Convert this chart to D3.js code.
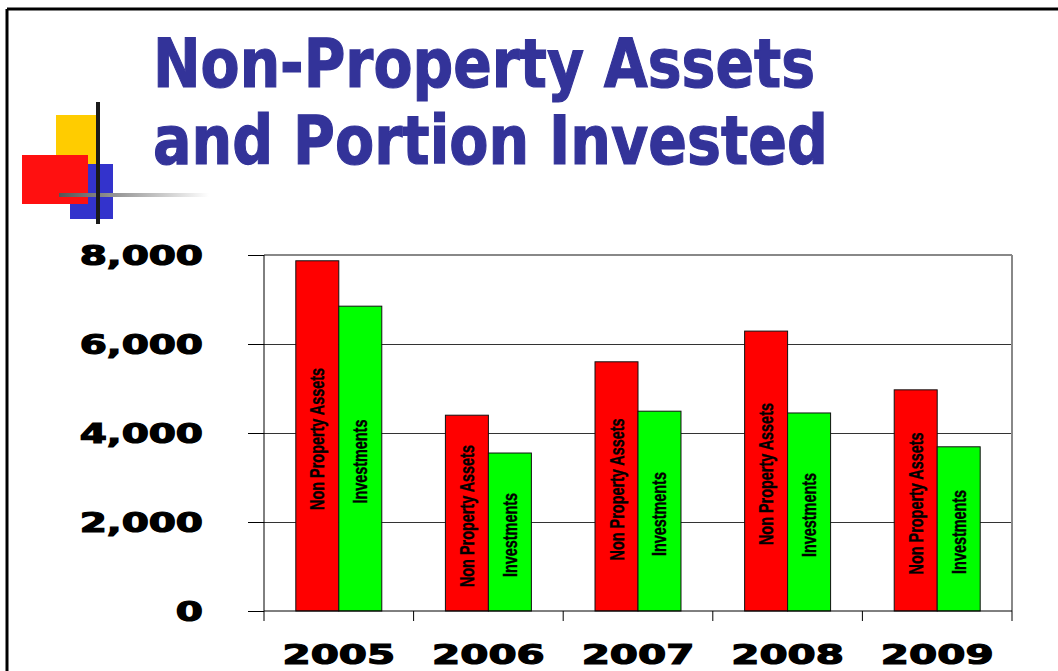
<!DOCTYPE html>
<html>
<head>
<meta charset="utf-8">
<script src="https://cdn.jsdelivr.net/npm/d3@7"></script>
<style>
  body { margin: 0; background: #fff; }
  svg { display: block; }
</style>
</head>
<body>
<script>
// data
let years = ["2005", "2006", "2007", "2008", "2009"];
let nonPropertyAssets = [7870, 4400, 5600, 6290, 4970];
let investments = [6850, 3550, 4490, 4450, 3690];
let seriesNames = ["Non Property Assets", "Investments"];
let seriesColors = ["#ff0000", "#00ff00"];
let yTicks = [0, 2000, 4000, 6000, 8000];
let titleLines = ["Non-Property Assets", "and Portion Invested"];

let width = 1058, height = 671;
let svg = d3.select("body").append("svg")
    .attr("width", width)
    .attr("height", height);

// slide frame
svg.append("line").attr("x1", 7).attr("y1", 9).attr("x2", width).attr("y2", 9)
    .attr("stroke", "#000").attr("stroke-width", 3);
svg.append("line").attr("x1", 7).attr("y1", 9).attr("x2", 7).attr("y2", height)
    .attr("stroke", "#000").attr("stroke-width", 3);

// the little coloured-squares logo
let defs = svg.append("defs");
let grad = defs.append("linearGradient").attr("id", "fade");
grad.append("stop").attr("offset", "0%").attr("stop-color", "#555");
grad.append("stop").attr("offset", "100%").attr("stop-color", "#fff");

let logo = svg.append("g");
logo.append("rect").attr("x", 56).attr("y", 115).attr("width", 40).attr("height", 50).attr("fill", "#ffcc00");
logo.append("rect").attr("x", 70).attr("y", 164).attr("width", 43).attr("height", 55).attr("fill", "#3333cc");
logo.append("rect").attr("x", 22).attr("y", 155).attr("width", 66).attr("height", 49).attr("fill", "#ff1010");
logo.append("rect").attr("x", 59).attr("y", 193).attr("width", 150).attr("height", 4).attr("fill", "url(#fade)");
logo.append("rect").attr("x", 96).attr("y", 102).attr("width", 4).attr("height", 122).attr("fill", "#1a1a1a");

// title
svg.append("g").selectAll("text").data(titleLines).join("text")
    .attr("x", 153)
    .attr("y", (d, i) => 87 + i * 77)
    .attr("textLength", (d, i) => i === 0 ? 662 : 675)
    .attr("lengthAdjust", "spacingAndGlyphs")
    .attr("font-family", "'DejaVu Sans', Verdana, sans-serif")
    .attr("font-weight", "bold")
    .attr("font-size", 67)
    .attr("fill", "#333399")
    .attr("stroke", "#333399")
    .attr("stroke-width", 1.2)
    .text(d => d);

// chart
let plot = {left: 264, right: 1012, top: 255, bottom: 611};

let x0 = d3.scaleBand().domain(years).range([plot.left, plot.right]);
let x1 = d3.scaleBand().domain(seriesNames).range([0, x0.bandwidth()]).paddingOuter(0.74);
let y = d3.scaleLinear().domain([0, 8000]).range([plot.bottom, plot.top]);

// gridlines
svg.append("g").selectAll("line").data(yTicks.filter(t => t > 0)).join("line")
    .attr("x1", plot.left).attr("x2", plot.right)
    .attr("y1", d => y(d)).attr("y2", d => y(d))
    .attr("stroke", d => d === 8000 ? "#888" : "#333")
    .attr("stroke-width", d => d === 8000 ? 2 : 1)
    .attr("shape-rendering", "crispEdges");
svg.append("line")
    .attr("x1", plot.right).attr("x2", plot.right)
    .attr("y1", plot.top).attr("y2", plot.bottom)
    .attr("stroke", "#888").attr("stroke-width", 2);

// bars
let rows = years.map((yr, i) => ({year: yr, values: [nonPropertyAssets[i], investments[i]]}));
let groups = svg.append("g").selectAll("g").data(rows).join("g")
    .attr("transform", d => `translate(${x0(d.year)},0)`);

let bars = groups.selectAll("g").data(d => d.values.map((v, j) => ({name: seriesNames[j], value: v, color: seriesColors[j]})))
    .join("g");

bars.append("rect")
    .attr("x", d => x1(d.name))
    .attr("y", d => y(d.value))
    .attr("width", x1.bandwidth())
    .attr("height", d => y(0) - y(d.value))
    .attr("fill", d => d.color)
    .attr("stroke", "#111")
    .attr("stroke-width", 1);

bars.append("text")
    .attr("transform", d => `translate(${x1(d.name) + x1.bandwidth() / 2},${(y(d.value) + y(0)) / 2 + 3}) rotate(-90)`)
    .attr("text-anchor", "middle")
    .attr("dy", "0.35em")
    .attr("textLength", d => d.name === seriesNames[0] ? 142 : 84)
    .attr("lengthAdjust", "spacingAndGlyphs")
    .attr("font-family", "'Liberation Sans Narrow', 'Arial Narrow', sans-serif")
    .attr("font-weight", "bold")
    .attr("font-size", 20)
    .attr("fill", "#000")
    .attr("stroke", "#000")
    .attr("stroke-width", 0.4)
    .text(d => d.name);

// y axis
let yAxis = svg.append("g").attr("transform", `translate(${plot.left},0)`)
    .call(d3.axisLeft(y).tickValues(yTicks).tickSize(16).tickFormat(d3.format(",")));
yAxis.select(".domain").attr("stroke", "#000").attr("d", `M0,${plot.top}V${plot.bottom}`);
yAxis.selectAll(".tick line").attr("stroke", "#000");
yAxis.selectAll(".tick text").remove();
yAxis.selectAll(".tick").append("text")
    .attr("transform", "translate(-61,0) scale(1.5,1)")
    .attr("text-anchor", "end")
    .attr("dy", "0.36em")
    .attr("font-family", "'DejaVu Sans', Verdana, sans-serif")
    .attr("font-weight", "bold")
    .attr("font-size", 26)
    .attr("fill", "#000")
    .attr("stroke", "#000")
    .attr("stroke-width", 1.2)
    .text(d => d3.format(",")(d));

// x axis
let xAxis = svg.append("g").attr("transform", `translate(0,${plot.bottom})`);
xAxis.append("line").attr("x1", plot.left).attr("x2", plot.right).attr("stroke", "#000");
xAxis.selectAll(".tk").data(years.concat("end")).join("line").attr("class", "tk")
    .attr("x1", (d, i) => i < years.length ? x0(d) : plot.right)
    .attr("x2", (d, i) => i < years.length ? x0(d) : plot.right)
    .attr("y1", 0).attr("y2", 10)
    .attr("stroke", "#000");
xAxis.selectAll("text").data(years).join("text")
    .attr("transform", d => `translate(${x0(d) + x0.bandwidth() / 2},53) scale(1.5,1)`)
    .attr("text-anchor", "middle")
    .attr("font-family", "'DejaVu Sans', Verdana, sans-serif")
    .attr("font-weight", "bold")
    .attr("font-size", 27)
    .attr("fill", "#000")
    .attr("stroke", "#000")
    .attr("stroke-width", 1.2)
    .text(d => d);
</script>
</body>
</html>
